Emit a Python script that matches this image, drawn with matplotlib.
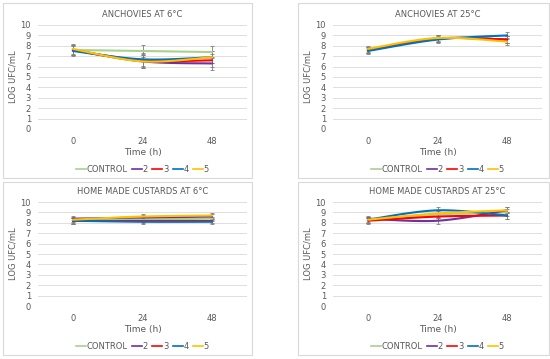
import matplotlib.pyplot as plt
import numpy as np
from matplotlib.lines import Line2D
from matplotlib.patches import Rectangle

times = ['0', '24', '48']
series = ['CONTROL', '2', '3', '4', '5']
colors = ['#a9d18e', '#7030a0', '#ff0000', '#0070c0', '#ffc000']

# anchovies 6C
anch6 = [
    [7.6, 7.5, 7.4],
    [7.6, 6.5, 6.3],
    [7.6, 6.6, 6.6],
    [7.5, 6.7, 6.9],
    [7.7, 6.5, 6.9],
]
anch6_err = [0.45, 0.6, 0.6]

# anchovies 25C
anch25 = [
    [7.6, 8.7, 8.6],
    [7.6, 8.7, 8.6],
    [7.6, 8.7, 8.6],
    [7.5, 8.6, 9.0],
    [7.7, 8.75, 8.4],
]
anch25_err = [0.3, 0.3, 0.35]

# custards 6C
cust6 = [
    [8.2, 8.3, 8.4],
    [8.4, 8.5, 8.6],
    [8.2, 8.2, 8.2],
    [8.2, 8.1, 8.1],
    [8.3, 8.6, 8.7],
]
cust6_err = [0.3, 0.25, 0.2]

# custards 25C
cust25 = [
    [8.3, 8.8, 9.0],
    [8.4, 8.2, 9.2],
    [8.2, 8.6, 8.7],
    [8.3, 9.2, 8.7],
    [8.3, 8.9, 9.2],
]
cust25_err = [0.3, 0.3, 0.3]

panels = [
    ('ANCHOVIES AT 6°C', anch6, anch6_err),
    ('ANCHOVIES AT 25°C', anch25, anch25_err),
    ('HOME MADE CUSTARDS AT 6°C', cust6, cust6_err),
    ('HOME MADE CUSTARDS AT 25°C', cust25, cust25_err),
]

W, H = 550, 359
txt = '#595959'


def smooth(x, y, n=30):
    # excel-like smoothed line (catmull-rom bezier)
    x = np.asarray(x, float)
    y = np.asarray(y, float)
    px = np.concatenate([[x[0]], x, [x[-1]]])
    py = np.concatenate([[y[0]], y, [y[-1]]])
    outx, outy = [], []
    t = np.linspace(0, 1, n)
    for i in range(len(x) - 1):
        p0 = np.array([px[i + 1], py[i + 1]])
        p3 = np.array([px[i + 2], py[i + 2]])
        c1 = p0 + (p3 - np.array([px[i], py[i]])) / 6
        c2 = p3 - (np.array([px[i + 3], py[i + 3]]) - p0) / 6
        b = ((1 - t) ** 3)[:, None] * p0 + (3 * (1 - t) ** 2 * t)[:, None] * c1 \
            + (3 * (1 - t) * t ** 2)[:, None] * c2 + (t ** 3)[:, None] * p3
        outx.extend(b[:, 0])
        outy.extend(b[:, 1])
    return outx, outy


fig = plt.figure(figsize=(W / 100, H / 100), dpi=100)

boxes = [(3, 3, 252, 178), (298, 3, 549, 178), (3, 182, 252, 355), (298, 182, 549, 355)]
areas = [(38, 25, 247, 129), (333, 25, 542, 129), (38, 202, 247, 306), (333, 202, 542, 306)]

for (title, data, err), box, area in zip(panels, boxes, areas):
    bx0, by0, bx1, by1 = box
    fig.patches.append(Rectangle((bx0 / W, 1 - by1 / H), (bx1 - bx0) / W, (by1 - by0) / H,
                                 transform=fig.transFigure, fill=False,
                                 edgecolor='#d9d9d9', linewidth=0.8))
    x0, y0, x1, y1 = area
    ax = fig.add_axes([x0 / W, 1 - y1 / H, (x1 - x0) / W, (y1 - y0) / H])
    xs = np.arange(len(times))
    for vals, c in zip(data, colors):
        ax.errorbar(xs, vals, yerr=err, fmt='none', ecolor='#7f7f7f',
                    elinewidth=0.6, capsize=1.2, capthick=0.6, zorder=2)
    for vals, c in zip(data, colors):
        sx, sy = smooth(xs, vals)
        ax.plot(sx, sy, color=c, linewidth=1.5, zorder=3, solid_capstyle='round')
    ax.set_xlim(-0.5, 2.5)
    ax.set_ylim(0, 10)
    ax.set_yticks(range(0, 11))
    ax.set_xticks(xs)
    ax.set_xticklabels(times)
    ax.grid(axis='y', color='#d9d9d9', linewidth=0.6)
    ax.set_axisbelow(True)
    for s in ax.spines.values():
        s.set_visible(False)
    ax.tick_params(length=0, labelsize=6, labelcolor=txt)
    ax.tick_params(axis='x', pad=6)
    ax.tick_params(axis='y', pad=5)
    ax.set_title(title, fontsize=6, color=txt, pad=6)
    ax.set_xlabel('Time (h)', fontsize=6.5, color=txt, labelpad=1)
    ax.set_ylabel('LOG UFC/mL', fontsize=6, color=txt, labelpad=2)
    handles = [Line2D([], [], color=c, linewidth=1.2) for c in colors]
    ax.legend(handles, series, loc='center', bbox_to_anchor=(0.5, -0.385),
              ncol=5, frameon=False, fontsize=6, handlelength=1.2, handletextpad=0.1,
              columnspacing=0.5, labelcolor=txt, borderpad=0)

fig.savefig('out.png', dpi=100)
